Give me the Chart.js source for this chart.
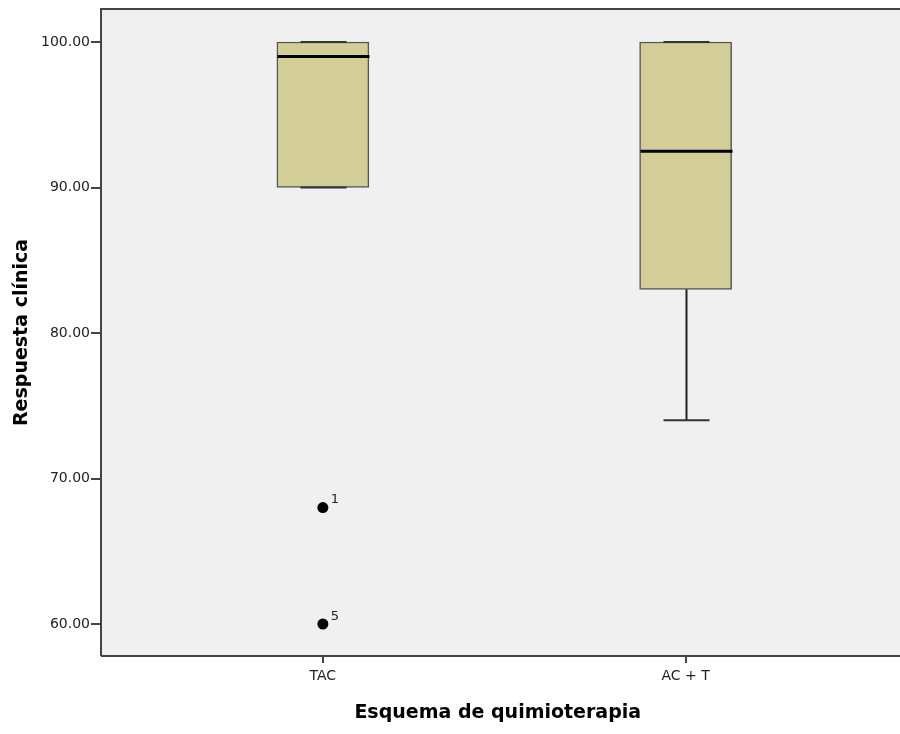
<!DOCTYPE html>
<html>
<head>
<meta charset="utf-8">
<script src="https://cdn.jsdelivr.net/npm/chart.js@4/dist/chart.umd.min.js"></script>
<style>
  html, body { margin: 0; padding: 0; background: #ffffff; }
  #wrap { width: 900px; height: 734px; }
</style>
</head>
<body>
<div id="wrap"><canvas id="c" width="900" height="734"></canvas></div>
<script>
// Chemotherapy scheme groups and their box-plot summaries (clinical response, %)
const groups = ['TAC', 'AC + T'];
const groupPos = [1, 2];
const lowerWhisker = [90, 74];
const q1 = [90, 83];
const median = [99, 92.5];
const q3 = [100, 100];
const upperWhisker = [100, 100];

// Outlying cases: group position, value, case number
const outlierPos = [1, 1];
const outlierValue = [68, 60];
const outlierCase = ['1', '5'];

const yTicks = [60, 70, 80, 90, 100];

const FONT = "'DejaVu Sans', Verdana, sans-serif";

const boxData = groupPos.map((x, i) => ({ x: x, y: [q1[i], q3[i]] }));
const outlierData = outlierPos.map((x, i) => ({ x: x, y: outlierValue[i] }));

// Plot background and frame; the panel runs on to the right edge of the canvas
const frame = {
  id: 'frame',
  beforeDraw(chart) {
    const { ctx, chartArea: a } = chart;
    const right = chart.width;
    ctx.save();
    ctx.fillStyle = '#f0f0f0';
    ctx.fillRect(a.left, a.top, right - a.left, a.bottom - a.top);
    ctx.restore();
  },
  afterDraw(chart) {
    const { ctx, chartArea: a } = chart;
    const right = chart.width;
    ctx.save();
    ctx.strokeStyle = '#444444';
    ctx.lineWidth = 2;
    ctx.beginPath();
    ctx.moveTo(a.left, a.bottom);
    ctx.lineTo(a.left, a.top);
    ctx.lineTo(right, a.top);
    ctx.moveTo(a.left, a.bottom);
    ctx.lineTo(right, a.bottom);
    ctx.stroke();
    ctx.restore();
  }
};

// Whiskers, caps and medians drawn from the summaries via the chart scales
const boxParts = {
  id: 'boxParts',
  afterDatasetsDraw(chart) {
    const { ctx } = chart;
    const xs = chart.scales.x, ys = chart.scales.y;
    const meta = chart.getDatasetMeta(0);
    ctx.save();
    groupPos.forEach((g, i) => {
      const cx = Math.round(xs.getPixelForValue(g)) + 0.5;
      const bar = meta.data[i];
      const half = bar.width / 2;
      const capHalf = half / 2;
      const yLo = ys.getPixelForValue(lowerWhisker[i]);
      const yQ1 = ys.getPixelForValue(q1[i]);
      const yQ3 = ys.getPixelForValue(q3[i]);
      const yHi = ys.getPixelForValue(upperWhisker[i]);
      const yMed = ys.getPixelForValue(median[i]);
      ctx.strokeStyle = '#222222';
      ctx.lineWidth = 2;
      ctx.beginPath();
      if (yLo > yQ1) { ctx.moveTo(cx, yQ1); ctx.lineTo(cx, yLo); }
      if (yHi < yQ3) { ctx.moveTo(cx, yQ3); ctx.lineTo(cx, yHi); }
      ctx.stroke();
      ctx.strokeStyle = '#333333';
      ctx.lineWidth = 2;
      ctx.beginPath();
      ctx.moveTo(cx - capHalf, yLo); ctx.lineTo(cx + capHalf, yLo);
      ctx.moveTo(cx - capHalf, yHi); ctx.lineTo(cx + capHalf, yHi);
      ctx.stroke();
      ctx.strokeStyle = '#000000';
      ctx.lineWidth = 3;
      ctx.beginPath();
      ctx.moveTo(cx - half, yMed); ctx.lineTo(cx + half, yMed);
      ctx.stroke();
    });
    // case labels beside outliers
    ctx.fillStyle = '#222222';
    ctx.font = '13px ' + FONT;
    ctx.textAlign = 'left';
    ctx.textBaseline = 'bottom';
    outlierPos.forEach((g, i) => {
      const px = xs.getPixelForValue(g);
      const py = ys.getPixelForValue(outlierValue[i]);
      ctx.fillText(outlierCase[i], px + 8, py - 1);
    });
    ctx.restore();
  }
};

new Chart(document.getElementById('c'), {
  type: 'bar',
  data: {
    datasets: [
      {
        type: 'bar',
        data: boxData,
        backgroundColor: '#d3ce97',
        borderColor: '#555555',
        borderWidth: 1.5,
        borderSkipped: false,
        barThickness: 92,
        order: 2
      },
      {
        type: 'scatter',
        data: outlierData,
        pointRadius: 5.5,
        pointBackgroundColor: '#000000',
        pointBorderColor: '#000000',
        pointBorderWidth: 0,
        order: 1
      }
    ]
  },
  options: {
    responsive: false,
    animation: false,
    layout: { padding: { top: 9, right: 0, left: 0, bottom: 0 } },
    plugins: { legend: { display: false }, tooltip: { enabled: false } },
    scales: {
      x: {
        type: 'linear',
        min: 0.3884,
        max: 2.5758,
        offset: false,
        afterBuildTicks(scale) { scale.ticks = groupPos.map(v => ({ value: v })); },
        afterFit(scale) {
          scale.height = 78;
          scale.paddingLeft = 0;
          scale.paddingRight = 0;
        },
        ticks: {
          autoSkip: false,
          maxRotation: 0,
          padding: 5,
          color: '#222222',
          font: { family: FONT, size: 14 },
          callback: (v) => groups[groupPos.indexOf(v)] ?? ''
        },
        grid: { offset: false, drawOnChartArea: false, drawTicks: true, tickLength: 7, color: '#444444', lineWidth: 2 },
        border: { display: false },
        title: {
          display: true,
          text: 'Esquema de quimioterapia',
          color: '#000000',
          font: { family: FONT, size: 19, weight: 'bold' },
          padding: { top: 10, bottom: 10 }
        }
      },
      y: {
        type: 'linear',
        min: 57.80,
        max: 102.27,
        afterBuildTicks(scale) { scale.ticks = yTicks.map(v => ({ value: v })); },
        afterFit(scale) {
          scale.width = 101;
          scale.paddingTop = 0;
          scale.paddingBottom = 0;
        },
        ticks: {
          padding: 1,
          color: '#222222',
          font: { family: FONT, size: 14 },
          callback: (v) => v.toFixed(2)
        },
        grid: { drawOnChartArea: false, drawTicks: true, tickLength: 10, color: '#444444', lineWidth: 2 },
        border: { display: false },
        title: {
          display: true,
          text: 'Respuesta clínica',
          color: '#000000',
          font: { family: FONT, size: 19, weight: 'bold' },
          padding: { top: 11, bottom: 0 }
        }
      }
    }
  },
  plugins: [frame, boxParts]
});
</script>
</body>
</html>
